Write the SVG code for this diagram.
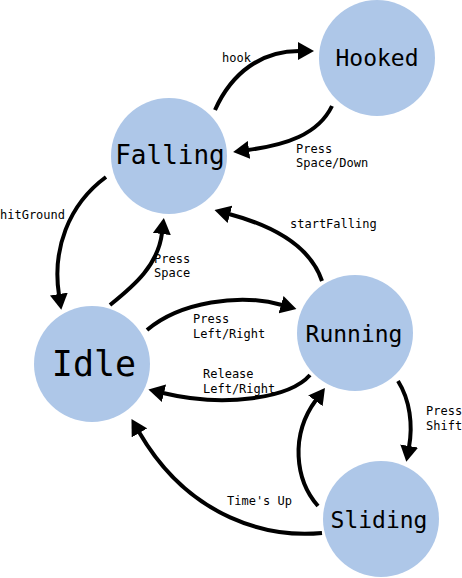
<svg xmlns="http://www.w3.org/2000/svg" width="462" height="578" viewBox="0 0 462 578">
<style>
.node{fill:#aec7e8}
.nt{font-family:"DejaVu Sans Mono",monospace;text-anchor:middle;fill:#000}
.lb{font-family:"DejaVu Sans Mono",monospace;font-size:12px;fill:#000}
.edge{fill:none;stroke:#000;stroke-width:4;marker-end:url(#ah)}
</style>
<defs>
<marker id="ah" markerUnits="userSpaceOnUse" markerWidth="16" markerHeight="18" viewBox="0 0 16 18" refX="1" refY="9" orient="auto">
<path d="M0,0 L16,9 L0,18 z" fill="#000"/>
</marker>
</defs>
<rect width="462" height="578" fill="#fff"/>
<g id="node-hooked"><circle class="node" cx="377" cy="58" r="58"/><text class="nt" x="377" y="66" font-size="23">Hooked</text></g>
<g id="node-falling"><circle class="node" cx="169" cy="156" r="58"/><text class="nt" x="170" y="164" font-size="26">Falling</text></g>
<g id="node-idle"><circle class="node" cx="92" cy="364" r="58"/><text class="nt" x="94" y="376" font-size="35">Idle</text></g>
<g id="node-running"><circle class="node" cx="355" cy="333" r="58"/><text class="nt" x="354" y="342" font-size="23">Running</text></g>
<g id="node-sliding"><circle class="node" cx="381" cy="519" r="58"/><text class="nt" x="379" y="528" font-size="23">Sliding</text></g>
<g id="connectors">
<path class="edge" d="M215,110 C232,72 262,51 299,51"/>
<path class="edge" d="M332,106 C318,135 285,145 248,150"/>
<path class="edge" d="M106,177 C68,205 52,250 59,295"/>
<path class="edge" d="M110,305 C135,285 158,265 162,233"/>
<path class="edge" d="M322,281 C310,245 270,225 229,214"/>
<path class="edge" d="M147,330 C180,302 240,293 282,305"/>
<path class="edge" d="M310,375 C290,398 225,408 163,393"/>
<path class="edge" d="M398,381 C410,400 413,425 409,447"/>
<path class="edge" d="M318,506 C295,480 290,435 316,400"/>
<path class="edge" d="M322,533 C270,538 190,520 139,432"/>
<text class="lb" x="222" y="62">hook</text>
<text class="lb" x="296" y="153">Press</text>
<text class="lb" x="296" y="167">Space/Down</text>
<text class="lb" x="0" y="219">hitGround</text>
<text class="lb" x="154" y="263">Press</text>
<text class="lb" x="154" y="277">Space</text>
<text class="lb" x="290" y="228">startFalling</text>
<text class="lb" x="193" y="323">Press</text>
<text class="lb" x="193" y="338">Left/Right</text>
<text class="lb" x="203" y="378">Release</text>
<text class="lb" x="203" y="393">Left/Right</text>
<text class="lb" x="426" y="415">Press</text>
<text class="lb" x="426" y="430">Shift</text>
<text class="lb" x="227" y="505">Time's Up</text>
</g>
</svg>
